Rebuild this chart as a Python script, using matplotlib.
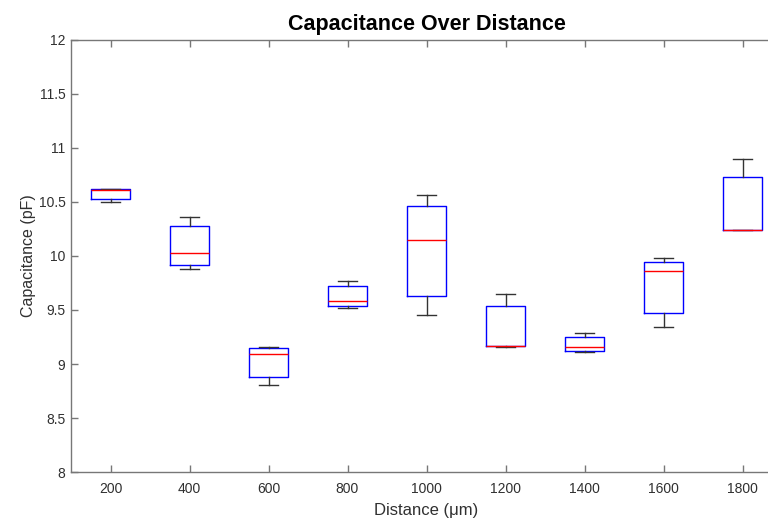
import matplotlib
matplotlib.use('Agg')
import matplotlib.pyplot as plt

plt.rcParams['font.family'] = ['Liberation Sans', 'DejaVu Sans']

# box statistics (pF)
distances = [200, 400, 600, 800, 1000, 1200, 1400, 1600, 1800]
whislo = [10.497, 9.880, 8.806, 9.519, 9.454, 9.155, 9.108, 9.346, 10.240]
q1     = [10.525, 9.917, 8.877, 9.537, 9.630, 9.167, 9.120, 9.475, 10.240]
med    = [10.615, 10.030, 9.093, 9.583, 10.148, 9.170, 9.160, 9.864, 10.241]
q3     = [10.620, 10.280, 9.145, 9.722, 10.463, 9.537, 9.253, 9.947, 10.734]
whishi = [10.620, 10.364, 9.160, 9.768, 10.565, 9.648, 9.284, 9.978, 10.895]
y_ticks = [8, 8.5, 9, 9.5, 10, 10.5, 11, 11.5, 12]

stats = []
for i in range(len(distances)):
    stats.append({'whislo': whislo[i], 'q1': q1[i], 'med': med[i],
                  'q3': q3[i], 'whishi': whishi[i], 'fliers': []})

fig = plt.figure(figsize=(7.68, 5.19), dpi=100)
# axes run off the right edge like the cropped original
ax = fig.add_axes([71/768, 1 - 472/519, 711/768, 432/519])

positions = list(range(1, len(distances) + 1))
ax.bxp(stats, positions=positions, widths=0.5, showfliers=False,
       boxprops=dict(color='blue', linewidth=1),
       medianprops=dict(color='red', linewidth=1),
       whiskerprops=dict(color='#333333', linewidth=1),
       capprops=dict(color='#333333', linewidth=1))

ax.set_xlim(0.5, len(distances) + 0.5)
ax.set_ylim(8, 12)
ax.set_xticks(positions)
ax.set_xticklabels([str(d) for d in distances])
ax.set_yticks(y_ticks)
ax.set_yticklabels(['%g' % t for t in y_ticks])

spine_color = '#777777'
for s in ax.spines.values():
    s.set_color(spine_color)
    s.set_linewidth(1)
ax.tick_params(direction='in', length=5, width=1, color=spine_color,
               labelcolor='#303030', labelsize=10, top=True, right=True)
ax.tick_params(axis='x', pad=7)
ax.tick_params(axis='y', pad=4)

ax.set_title('Capacitance Over Distance', fontsize=15.5, fontweight='bold', pad=7)
ax.set_xlabel('Distance (μm)', fontsize=12, color='#303030', labelpad=5)
ax.set_ylabel('Capacitance (pF)', fontsize=11.5, color='#303030', labelpad=2)

fig.savefig('out.png', dpi=100)
